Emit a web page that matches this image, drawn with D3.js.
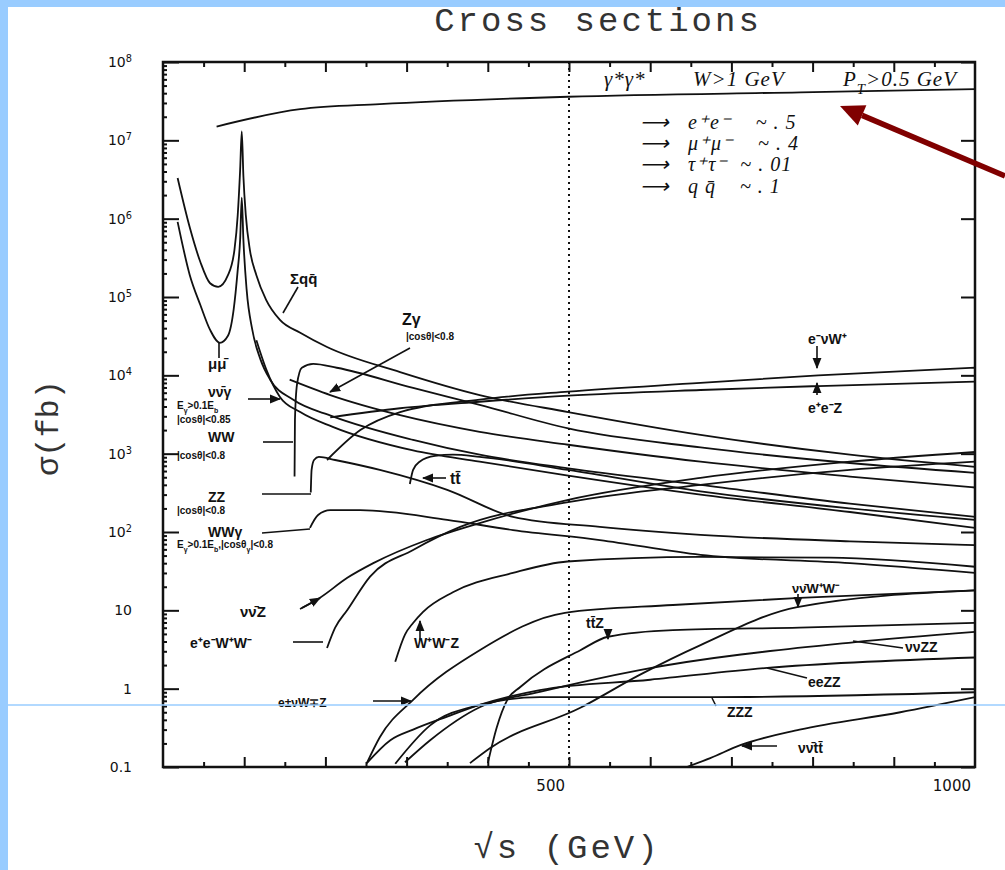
<!DOCTYPE html>
<html>
<head>
<meta charset="utf-8">
<script src="https://cdn.jsdelivr.net/npm/d3@7"></script>
<style>
html, body { margin: 0; padding: 0; background: #fff; }
svg { display: block; }
</style>
</head>
<body>
<svg id="main" width="1005" height="870"></svg>
<script>
// values: sqrt(s) in GeV, sigma in fb
const gammaGamma = [[66,1.5e7],[169,2.5e7],[267,2.9e7],[499,3.6e7],[785,4.1e7],[1000,4.5e7]];
const qqbar = [[18,3.3e6],[33,7.7e5],[46,2.8e5],[58,1.5e5],[68,1.35e5],[80,1.9e5],[88,4.0e5],[92,1.1e6],[95,4.2e6],[97,1.3e7],[99,3.5e6],[102,1.1e6],[107,4.0e5],[115,1.9e5],[127,9.2e4],[144,5.1e4],[169,3.5e4],[202,2.3e4],[292,1.1e4],[390,5.6e3],[499,3.4e3],[662,1.74e3],[846,970],[1000,680]];
const mumu = [[18,9.1e5],[33,1.9e5],[46,7.9e4],[58,3.8e4],[70,2.6e4],[80,3.2e4],[87,6.9e4],[92,2.2e5],[95,5.4e5],[97,1.85e6],[99,5.4e5],[103,1.24e5],[110,3.8e4],[120,1.6e4],[132,8.8e3],[160,4.9e3],[209,3.0e3],[308,1.5e3],[390,970],[499,650],[662,400],[846,230],[1000,156]];
const nunuGamma = [[115,2.8e4],[127,1.2e4],[144,5.3e3],[169,3.4e3],[209,2.2e3],[308,1.1e3],[390,790],[499,525],[662,300],[846,180],[1000,113]];
const ww = [[162,510],[162.5,2.7e3],[165,7.6e3],[171,1.25e4],[185,1.4e4],[214,1.25e4],[308,6.9e3],[390,4.2e3],[499,2.1e3],[662,1.2e3],[846,760],[1000,570]];
const zGamma = [[156,8.8e3],[206,5.6e3],[292,3.1e3],[390,1.9e3],[499,1.3e3],[662,790],[846,510],[1000,370]];
const zz = [[182,320],[183,620],[186,830],[192,910],[212,830],[267,620],[350,345],[431,156],[538,116],[662,92],[846,76],[1000,68]];
const wwGamma = [[181,113],[191,165],[206,190],[243,190],[350,143],[431,106],[538,79],[662,51],[846,40],[1000,30]];
const ttbar = [[304,410],[308,620],[316,790],[335,940],[357,970],[390,910],[499,620],[662,330],[846,200],[1000,143]];
const enuW = [[202,830],[243,2.0e3],[292,3.4e3],[390,4.9e3],[499,6.2e3],[662,8.0e3],[807,1.0e4],[1000,1.25e4]];
const eeZ = [[206,2.9e3],[292,3.8e3],[390,4.6e3],[499,5.5e3],[662,6.5e3],[807,7.3e3],[1000,8.3e3]];
const nunuZ = [[171,10.7],[193,14.4],[227,26],[259,40],[325,79],[390,130],[499,257],[662,490],[846,790],[1000,1.05e3]];
const eeWW = [[202,3.3],[212,6],[227,10.1],[255,27],[308,59],[366,116],[499,240],[662,400],[846,620],[1000,790]];
const wwZ = [[286,2.2],[298,4.9],[308,6.9],[320,9.5],[357,17],[431,30],[498,42],[662,48],[821,47],[1000,36]];
const enuWZ = [[251,0.112],[267,0.24],[308,0.72],[390,3.1],[495,9.3],[628,11.7],[784,14.4],[1000,18]];
const nunuWW = [[378,0.112],[403,0.175],[514,0.57],[587,1.5],[662,3.6],[781,11],[1000,18]];
const ttZ = [[400,0.112],[411,0.32],[424,0.72],[440,1.05],[514,3.1],[548,4.6],[628,5.6],[784,6.0],[1000,6.9]];
const nunuZZ = [[298,0.115],[329,0.22],[390,0.58],[464,0.91],[587,1.73],[850,3.9],[1000,5.3]];
const eeZZ = [[251,0.112],[280,0.22],[308,0.30],[350,0.44],[390,0.62],[464,0.96],[600,1.3],[744,1.84],[1000,2.5]];
const zzz = [[286,0.11],[329,0.34],[390,0.62],[464,0.78],[674,0.78],[1000,0.9]];
const nunuTT = [[645,0.1],[674,0.13],[711,0.19],[784,0.30],[908,0.5],[1000,0.78]];

const curves = [gammaGamma, qqbar, mumu, nunuGamma, ww, zGamma, zz, wwGamma, ttbar, enuW, eeZ,
  nunuZ, eeWW, wwZ, enuWZ, nunuWW, ttZ, nunuZZ, eeZZ, zzz, nunuTT];

const yTickValues = [0.1, 1, 10, 1e2, 1e3, 1e4, 1e5, 1e6, 1e7, 1e8];
const yTickLabels = ['0.1', '1', '10', '10^{2}', '10^{3}', '10^{4}', '10^{5}', '10^{6}', '10^{7}', '10^{8}'];
const xTickLabelValues = [500, 1000];
const xTickLabels = ['500', '1000'];

const svg = d3.select('#main');
const x = d3.scaleLinear().domain([0, 1000]).range([163, 975]);
const y = d3.scaleLog().domain([0.1, 1e8]).range([767, 62]);

// text with ^{sup} and _{sub}
function rich(sel, str) {
	const re = /\^\{([^}]*)\}|_\{([^}]*)\}|([^_^]+)/g;
	let m;
	while ((m = re.exec(str))) {
		if (m[1] !== undefined) sel.append('tspan').attr('baseline-shift', 'super').attr('font-size', '70%').text(m[1]);
		else if (m[2] !== undefined) sel.append('tspan').attr('baseline-shift', 'sub').attr('font-size', '70%').text(m[2]);
		else sel.append('tspan').text(m[3]);
	}
}

// frame of the slide
svg.append('rect').attr('x', 0).attr('y', 0).attr('width', 1005).attr('height', 870).attr('fill', '#fff');
svg.append('rect').attr('x', 0).attr('y', 0).attr('width', 8).attr('height', 870).attr('fill', '#99ccff');
svg.append('rect').attr('x', 0).attr('y', 0).attr('width', 1005).attr('height', 7).attr('fill', '#99ccff');

svg.append('text')
	.attr('x', 598).attr('y', 31)
	.attr('text-anchor', 'middle')
	.style('font-family', 'Liberation Mono')
	.style('font-size', '34px')
	.style('letter-spacing', '3px')
	.attr('fill', '#333')
	.text('Cross sections');

svg.append('defs').append('clipPath').attr('id', 'plot')
	.append('rect').attr('x', 163).attr('y', 62).attr('width', 812).attr('height', 705);

svg.append('defs').append('marker')
	.attr('id', 'arr').attr('viewBox', '0 0 10 10').attr('refX', 9).attr('refY', 5)
	.attr('markerWidth', 7).attr('markerHeight', 7).attr('orient', 'auto')
	.append('path').attr('d', 'M0,1L10,5L0,9z').attr('fill', '#111');

// axes: ticks pointing inward
const minor = [];
yTickValues.slice(0, -1).forEach(v => { for (let k = 2; k < 10; k++) minor.push(v * k); });

svg.append('g').attr('transform', 'translate(163,0)')
	.call(d3.axisRight(y).tickValues(yTickValues).tickSize(16).tickFormat(''))
	.call(g => g.select('.domain').remove());
svg.append('g').attr('transform', 'translate(163,0)')
	.call(d3.axisRight(y).tickValues(minor).tickSize(4).tickFormat(''))
	.call(g => g.select('.domain').remove());
svg.append('g').attr('transform', 'translate(975,0)')
	.call(d3.axisLeft(y).tickValues(yTickValues).tickSize(14).tickFormat(''))
	.call(g => g.select('.domain').remove());
svg.append('g').attr('transform', 'translate(0,767)')
	.call(d3.axisTop(x).tickValues(d3.range(100, 1000, 100)).tickSize(10).tickFormat(''))
	.call(g => g.select('.domain').remove());
svg.append('g').attr('transform', 'translate(0,767)')
	.call(d3.axisTop(x).tickValues(d3.range(50, 1000, 100)).tickSize(5).tickFormat(''))
	.call(g => g.select('.domain').remove());
svg.append('g').attr('transform', 'translate(0,62)')
	.call(d3.axisBottom(x).tickValues(d3.range(100, 1000, 100)).tickSize(10).tickFormat(''))
	.call(g => g.select('.domain').remove());
svg.append('g').attr('transform', 'translate(0,62)')
	.call(d3.axisBottom(x).tickValues(d3.range(50, 1000, 100)).tickSize(5).tickFormat(''))
	.call(g => g.select('.domain').remove());
svg.selectAll('.tick line').attr('stroke', '#111').attr('stroke-width', 2);

svg.append('rect').attr('x', 163).attr('y', 62).attr('width', 812).attr('height', 705)
	.attr('fill', 'none').attr('stroke', '#111').attr('stroke-width', 2.5);

yTickValues.forEach((v, i) => {
	const t = svg.append('text').attr('x', 132).attr('y', y(v) + 5)
		.attr('text-anchor', 'end')
		.style('font-family', 'DejaVu Sans').style('font-size', '14px').attr('fill', '#111');
	rich(t, yTickLabels[i]);
});
xTickLabelValues.forEach((v, i) => {
	svg.append('text').attr('x', x(v) - 4).attr('y', 791)
		.attr('text-anchor', 'end')
		.style('font-family', 'DejaVu Sans').style('font-size', '15px').attr('fill', '#111')
		.text(xTickLabels[i]);
});

svg.append('line')
	.attr('x1', x(500)).attr('x2', x(500)).attr('y1', 62).attr('y2', 767)
	.attr('stroke', '#111').attr('stroke-width', 2).attr('stroke-dasharray', '2 4');

svg.append('text')
	.attr('x', 567).attr('y', 858).attr('text-anchor', 'middle')
	.style('font-family', 'Liberation Mono').style('font-size', '34px').style('letter-spacing', '3px')
	.attr('fill', '#333').text('√s (GeV)');
svg.append('text')
	.attr('transform', 'translate(58,428) rotate(-90)').attr('text-anchor', 'middle')
	.style('font-family', 'Liberation Mono').style('font-size', '32px')
	.attr('fill', '#333').text('σ(fb)');

// cross section curves
const line = d3.line().x(d => x(d[0])).y(d => y(d[1])).curve(d3.curveMonotoneX);
svg.append('g').attr('clip-path', 'url(#plot)')
	.selectAll('path').data(curves).join('path')
	.attr('d', line)
	.attr('fill', 'none').attr('stroke', '#111').attr('stroke-width', 1.8);

// leader lines to the curves
const leaders = [
	[298, 287, 283, 313, 0], [219, 343, 219, 358, 0], [248, 399, 280, 399, 1],
	[263, 442, 293, 442, 0], [262, 494, 311, 494, 0], [262, 533, 310, 529, 0],
	[410, 348, 330, 392, 1], [817, 346, 817, 368, 1], [817, 395, 817, 383, 1],
	[446, 478, 423, 478, 1], [300, 609, 320, 598, 1], [293, 642, 323, 642, 0],
	[420, 640, 420, 621, 1], [373, 701, 411, 701, 1], [608, 629, 608, 639, 1],
	[798, 594, 798, 607, 1], [853, 641, 903, 648, 0], [767, 668, 807, 678, 0],
	[712, 698, 716, 706, 0], [777, 746, 742, 746, 1]
];
svg.append('g').selectAll('line').data(leaders).join('line')
	.attr('x1', d => d[0]).attr('y1', d => d[1]).attr('x2', d => d[2]).attr('y2', d => d[3])
	.attr('stroke', '#111').attr('stroke-width', 1.6)
	.attr('marker-end', d => d[4] ? 'url(#arr)' : null);

const labels = [
	['Σqq\u0304', 290, 284, 15], ['μμ\u0304', 208, 369, 15],
	['νν\u0304γ', 208, 397, 14], ['E_{γ}>0.1E_{b}', 177, 409, 10], ['|cosθ|<0.85', 177, 423, 10],
	['WW', 208, 442, 14], ['|cosθ|<0.8', 177, 459, 10],
	['ZZ', 208, 502, 14], ['|cosθ|<0.8', 177, 514, 10],
	['WWγ', 208, 537, 14], ['E_{γ}>0.1E_{b},|cosθ_{γ}|<0.8', 177, 548, 10],
	['Zγ', 402, 325, 16], ['|cosθ|<0.8', 406, 340, 10],
	['e⁻νW⁺', 808, 344, 14], ['e⁺e⁻Z', 808, 413, 14],
	['tt\u0304', 450, 484, 16],
	['νν\u0304Z', 240, 617, 15], ['e⁺e⁻W⁺W⁻', 190, 648, 14],
	['W⁺W⁻Z', 414, 648, 14], ['e±νW∓Z', 278, 707, 12],
	['tt\u0304Z', 586, 628, 14], ['νν\u0304W⁺W⁻', 792, 593, 13],
	['ννZZ', 905, 652, 14], ['eeZZ', 808, 687, 14], ['ZZZ', 727, 717, 14],
	['νν\u0304tt\u0304', 798, 753, 14]
];
labels.forEach(d => {
	const t = svg.append('text').attr('x', d[1]).attr('y', d[2])
		.style('font-family', 'Liberation Sans').style('font-weight', 'bold')
		.style('font-size', d[3] + 'px').attr('fill', '#111');
	rich(t, d[0]);
});

// gamma gamma note, hand written on the original
const note = [
	['γ*γ*', 604, 86, 21], ['W>1 GeV', 693, 86, 21], ['P_{T}>0.5 GeV', 843, 86, 21],
	['⟶   e⁺e⁻    ~ . 5', 640, 129, 20], ['⟶   μ⁺μ⁻    ~ . 4', 640, 150, 20],
	['⟶   τ⁺τ⁻  ~ . 01', 640, 171, 20], ['⟶   q q\u0304    ~ . 1', 640, 193, 20]
];
note.forEach(d => {
	const t = svg.append('text').attr('x', d[1]).attr('y', d[2])
		.style('font-family', 'Liberation Serif').style('font-style', 'italic')
		.style('white-space', 'pre').style('letter-spacing', '1px')
		.style('font-size', d[3] + 'px').attr('fill', '#111');
	rich(t, d[0]);
});

// slide overlays
svg.append('line').attr('x1', 8).attr('x2', 1005).attr('y1', 705).attr('y2', 705)
	.attr('stroke', '#99ccff').attr('stroke-width', 1.5);

const tip = [840, 106], tail = [1005, 176];
const len = Math.hypot(tail[0] - tip[0], tail[1] - tip[1]);
const ux = (tail[0] - tip[0]) / len, uy = (tail[1] - tip[1]) / len;
const bx = tip[0] + ux * 24, by = tip[1] + uy * 24;
svg.append('line').attr('x1', tail[0]).attr('y1', tail[1]).attr('x2', bx).attr('y2', by)
	.attr('stroke', '#800000').attr('stroke-width', 5.5);
svg.append('path')
	.attr('d', `M${tip[0]},${tip[1]}L${bx - uy * 11},${by + ux * 11}L${bx + uy * 11},${by - ux * 11}Z`)
	.attr('fill', '#800000');
</script>
</body>
</html>
